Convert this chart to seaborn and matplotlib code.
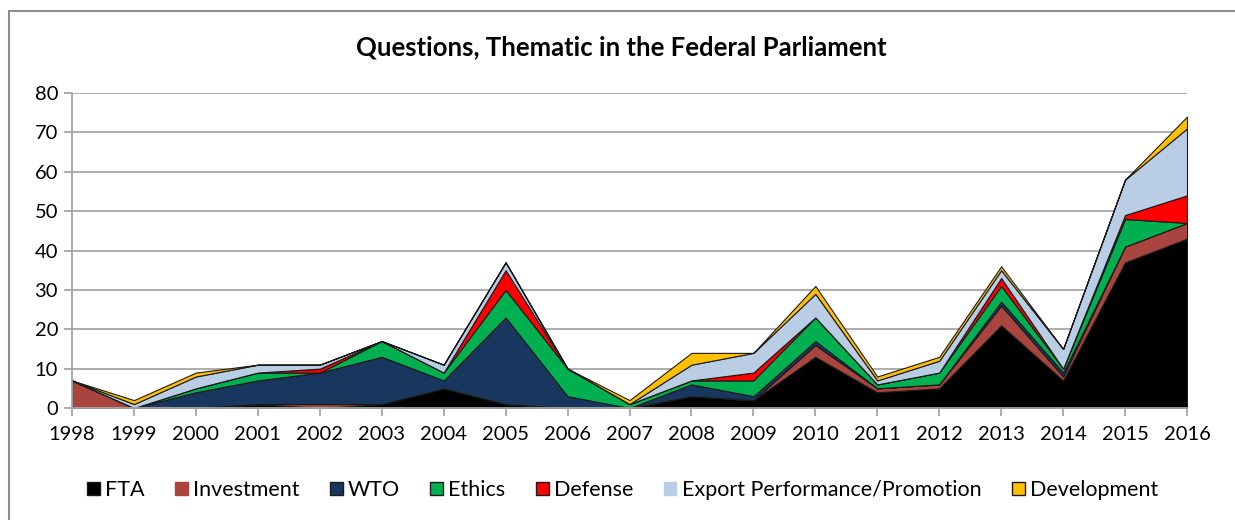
import pandas as pd
import matplotlib.pyplot as plt
import seaborn as sns
from matplotlib.patches import Patch
from matplotlib.lines import Line2D

# Values, one list per theme
years = list(range(1998, 2017))
fta = [0, 0, 0, 1, 0, 1, 5, 1, 0, 0, 3, 2, 13, 4, 5, 21, 7, 37, 43]
investment = [7, 0, 0, 0, 1, 0, 0, 0, 0, 0, 0, 0, 3, 1, 1, 5, 1, 4, 4]
wto = [0, 0, 4, 6, 8, 12, 2, 22, 3, 0, 3, 1, 1, 0, 0, 1, 1, 0, 0]
ethics = [0, 0, 1, 2, 0, 4, 2, 7, 7, 1, 1, 4, 6, 1, 3, 4, 1, 7, 0]
defense = [0, 0, 0, 0, 1, 0, 0, 5, 0, 0, 0, 2, 0, 0, 0, 2, 0, 1, 7]
export = [0, 1, 3, 2, 1, 0, 2, 2, 0, 0, 4, 5, 6, 1, 3, 2, 5, 9, 17]
development = [0, 1, 1, 0, 0, 0, 0, 0, 0, 1, 3, 0, 2, 1, 1, 1, 0, 0, 3]

series = ["FTA", "Investment", "WTO", "Ethics", "Defense",
          "Export Performance/Promotion", "Development"]
colors = ["#000000", "#A9443F", "#17375E", "#00B050", "#FF0000",
          "#B9CDE5", "#FFC000"]

df = pd.DataFrame({"year": years, "FTA": fta, "Investment": investment,
                   "WTO": wto, "Ethics": ethics, "Defense": defense,
                   "Export Performance/Promotion": export,
                   "Development": development})

sns.set_theme(style="white")
plt.rcParams['font.family'] = ['Lato', 'DejaVu Sans']
plt.rcParams['text.color'] = 'black'

fig = plt.figure(figsize=(12.35, 5.2), dpi=100)
ax = fig.add_axes([72 / 1235, 1 - 408 / 520, 1115 / 1235, 315 / 520])

# Stacked areas with a thin dark outline on each band
ax.stackplot(df["year"], [df[s] for s in series], colors=colors,
             edgecolor="#1a1a1a", linewidth=0.8)

# Axes styling
ax.set_xlim(1998, 2016)
ax.set_ylim(0, 80)
ax.set_xticks(years)
ax.set_yticks(range(0, 81, 10))
ax.yaxis.grid(True, color="#A6A6A6", linewidth=1.3)
ax.set_axisbelow(True)
sns.despine(ax=ax, top=True, right=True)
for side in ["left", "bottom"]:
    ax.spines[side].set_color("#A6A6A6")
    ax.spines[side].set_linewidth(1.3)
ax.tick_params(axis="both", which="both", direction="out", length=6,
               width=1.3, color="#A6A6A6", labelsize=14.5,
               labelcolor="#000000", left=True, bottom=True)
ax.tick_params(axis="x", pad=7)
ax.tick_params(axis="y", pad=4)

fig.text(0.503, 1 - 47 / 520, "Questions, Thematic in the Federal Parliament",
         ha="center", va="center", fontsize=18.5, fontweight="bold",
         color="black")

# Legend below the plot
handles = []
for s, c in zip(series, colors):
    edge = c if s in ("Investment", "Export Performance/Promotion") else "#1a1a1a"
    handles.append(Patch(facecolor=c, edgecolor=edge, linewidth=1, label=s))
leg = fig.legend(handles=handles, loc="center",
                 bbox_to_anchor=(0.504, 1 - 490 / 520),
                 ncol=7, frameon=False, fontsize=15.5, handlelength=0.6,
                 handleheight=0.6, handletextpad=0.25, columnspacing=1.4)
for t in leg.get_texts():
    t.set_color("black")

# Chart frame: only the top and left edges are visible in the crop
fig.add_artist(Line2D([9 / 1235, 9 / 1235], [0, 1 - 11 / 520],
                      transform=fig.transFigure, color="#8C8C8C", linewidth=1.5))
fig.add_artist(Line2D([9 / 1235, 1], [1 - 11 / 520, 1 - 11 / 520],
                      transform=fig.transFigure, color="#8C8C8C", linewidth=1.5))

fig.savefig("out.png", dpi=100)
